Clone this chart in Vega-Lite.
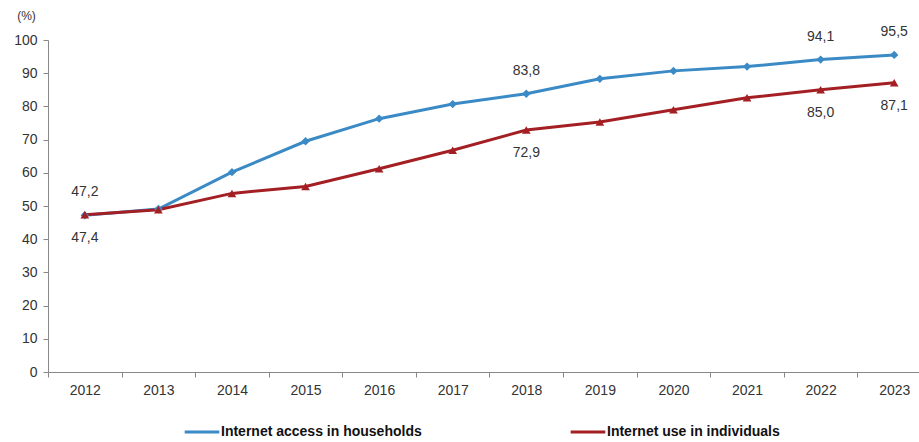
{
  "$schema": "https://vega.github.io/schema/vega-lite/v6.json",
  "autosize": {"type": "none"},
  "padding": {"left": 48, "top": 40, "right": 0, "bottom": 70},
  "width": 883,
  "height": 332,
  "background": "white",
  "config": {"view": {"stroke": null}, "font": "Liberation Sans"},
  "data": {"values": [
    {"year": "2012", "series": "Internet access in households", "value": 47.2, "label": "47,2", "pos": "above"},
    {"year": "2013", "series": "Internet access in households", "value": 49.1},
    {"year": "2014", "series": "Internet access in households", "value": 60.2},
    {"year": "2015", "series": "Internet access in households", "value": 69.5},
    {"year": "2016", "series": "Internet access in households", "value": 76.3},
    {"year": "2017", "series": "Internet access in households", "value": 80.7},
    {"year": "2018", "series": "Internet access in households", "value": 83.8, "label": "83,8", "pos": "above"},
    {"year": "2019", "series": "Internet access in households", "value": 88.3},
    {"year": "2020", "series": "Internet access in households", "value": 90.7},
    {"year": "2021", "series": "Internet access in households", "value": 92.0},
    {"year": "2022", "series": "Internet access in households", "value": 94.1, "label": "94,1", "pos": "above"},
    {"year": "2023", "series": "Internet access in households", "value": 95.5, "label": "95,5", "pos": "above"},
    {"year": "2012", "series": "Internet use in individuals", "value": 47.4, "label": "47,4", "pos": "below"},
    {"year": "2013", "series": "Internet use in individuals", "value": 48.9},
    {"year": "2014", "series": "Internet use in individuals", "value": 53.8},
    {"year": "2015", "series": "Internet use in individuals", "value": 55.9},
    {"year": "2016", "series": "Internet use in individuals", "value": 61.2},
    {"year": "2017", "series": "Internet use in individuals", "value": 66.8},
    {"year": "2018", "series": "Internet use in individuals", "value": 72.9, "label": "72,9", "pos": "below"},
    {"year": "2019", "series": "Internet use in individuals", "value": 75.3},
    {"year": "2020", "series": "Internet use in individuals", "value": 79.0},
    {"year": "2021", "series": "Internet use in individuals", "value": 82.6},
    {"year": "2022", "series": "Internet use in individuals", "value": 85.0, "label": "85,0", "pos": "below"},
    {"year": "2023", "series": "Internet use in individuals", "value": 87.1, "label": "87,1", "pos": "below"}
  ]},
  "encoding": {
    "x": {"field": "year", "type": "ordinal", "scale": {"type": "band", "paddingInner": 0, "paddingOuter": 0},
      "axis": {"title": null, "labelAngle": 0, "tickBand": "extent", "domainColor": "#888", "tickColor": "#888", "tickSize": 5, "labelFontSize": 14, "labelColor": "#333", "labelPadding": 6, "grid": false}},
    "y": {"field": "value", "type": "quantitative", "scale": {"domain": [0, 100]},
      "axis": {"title": "(%)", "titleAngle": 0, "titleX": -22, "titleY": -25, "titleAlign": "center", "titleBaseline": "middle", "titleFontSize": 12, "titleFontWeight": "normal", "titleColor": "#333", "values": [0,10,20,30,40,50,60,70,80,90,100], "grid": false, "domainColor": "#888", "tickColor": "#888", "tickSize": 5, "labelFontSize": 14, "labelColor": "#333", "labelPadding": 6}},
    "color": {"field": "series", "type": "nominal",
      "scale": {"domain": ["Internet access in households", "Internet use in individuals"], "range": ["#3a8ac6", "#a41f24"]},
      "legend": {"title": null, "orient": "none", "legendX": 135, "legendY": 373, "direction": "horizontal", "symbolType": "stroke", "symbolStrokeWidth": 3, "symbolSize": 1200, "labelFontSize": 14, "labelFontWeight": "bold", "labelColor": "#111", "columnPadding": 142, "labelOffset": 0, "labelLimit": 300}}
  },
  "layer": [
    {"mark": {"type": "line", "strokeWidth": 3}},
    {"transform": [{"filter": "datum.series == 'Internet access in households'"}],
      "mark": {"type": "point", "filled": true, "opacity": 1, "size": 70, "shape": "diamond"}},
    {"transform": [{"filter": "datum.series == 'Internet use in individuals'"}],
      "mark": {"type": "point", "filled": true, "opacity": 1, "size": 75, "shape": "triangle-up"}},
    {"transform": [{"filter": "datum.pos == 'above'"}],
      "mark": {"type": "text", "dy": -23, "fontSize": 14, "color": "#333"},
      "encoding": {"text": {"field": "label"}, "color": {"value": "#333"}}},
    {"transform": [{"filter": "datum.pos == 'below'"}],
      "mark": {"type": "text", "dy": 23, "fontSize": 14, "color": "#333"},
      "encoding": {"text": {"field": "label"}, "color": {"value": "#333"}}}
  ]
}
